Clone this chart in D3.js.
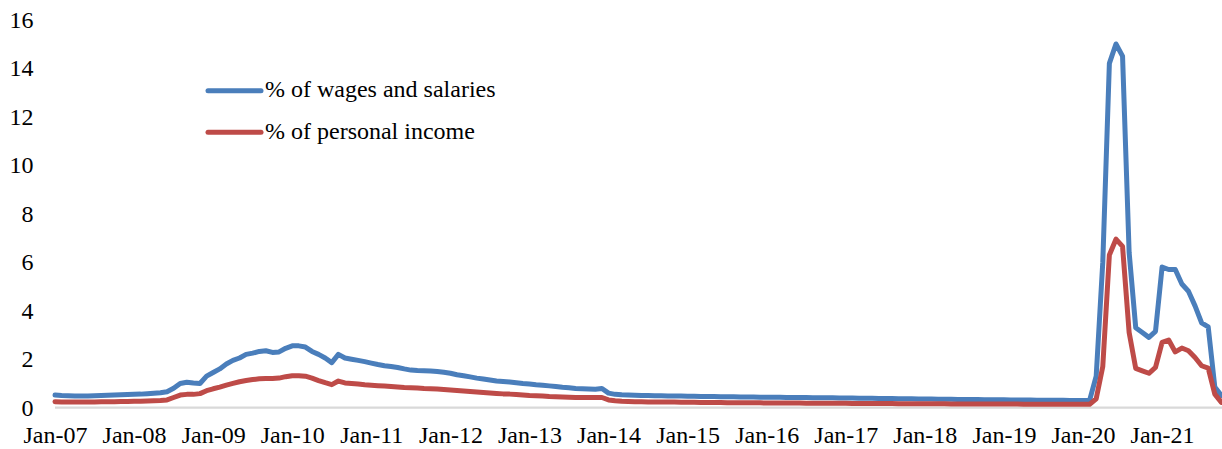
<!DOCTYPE html>
<html>
<head>
<meta charset="utf-8">
<script src="https://cdn.jsdelivr.net/npm/d3@7"></script>
<style>
  html, body { margin: 0; padding: 0; background: #ffffff; }
  svg { display: block; }
</style>
</head>
<body>
<svg id="chart" width="1222" height="449"></svg>
<script>
// ---- Data (monthly, Jan 2007 - Oct 2021) ----
const startYear = 2007, startMonth = 0, monthCount = 178;
const categories = d3.range(monthCount).map(i => {
  const y = startYear + Math.floor((startMonth + i) / 12);
  const m = (startMonth + i) % 12;
  return y + "-" + String(m + 1).padStart(2, "0");
});

const tickCategories = ["2007-01","2008-01","2009-01","2010-01","2011-01","2012-01","2013-01",
  "2014-01","2015-01","2016-01","2017-01","2018-01","2019-01","2020-01","2021-01"];
const tickLabels = ["Jan-07","Jan-08","Jan-09","Jan-10","Jan-11","Jan-12","Jan-13",
  "Jan-14","Jan-15","Jan-16","Jan-17","Jan-18","Jan-19","Jan-20","Jan-21"];
const yTicks = [0, 2, 4, 6, 8, 10, 12, 14, 16];

const seriesNames = ["% of wages and salaries", "% of personal income"];

const wagesShare = [
  // 2007
  0.52, 0.50, 0.49, 0.48, 0.48, 0.48, 0.49, 0.50, 0.51, 0.52, 0.53, 0.54,
  // 2008
  0.55, 0.56, 0.58, 0.60, 0.62, 0.66, 0.80, 1.00, 1.05, 1.02, 1.00, 1.30,
  // 2009
  1.45, 1.60, 1.80, 1.95, 2.05, 2.20, 2.25, 2.32, 2.35, 2.28, 2.30, 2.45,
  // 2010
  2.55, 2.55, 2.50, 2.32, 2.20, 2.05, 1.86, 2.20, 2.05, 2.00, 1.95, 1.90,
  // 2011
  1.84, 1.78, 1.73, 1.70, 1.66, 1.60, 1.55, 1.53, 1.52, 1.51, 1.49, 1.46,
  // 2012
  1.42, 1.36, 1.32, 1.27, 1.22, 1.18, 1.14, 1.10, 1.08, 1.06, 1.03, 1.00,
  // 2013
  0.98, 0.95, 0.93, 0.90, 0.87, 0.84, 0.82, 0.79, 0.78, 0.77, 0.76, 0.79,
  // 2014
  0.60, 0.55, 0.53, 0.52, 0.51, 0.50, 0.50, 0.49, 0.49, 0.48, 0.48, 0.48,
  // 2015
  0.47, 0.47, 0.46, 0.46, 0.46, 0.45, 0.45, 0.45, 0.44, 0.44, 0.44, 0.43,
  // 2016
  0.43, 0.43, 0.43, 0.42, 0.42, 0.42, 0.42, 0.41, 0.41, 0.41, 0.41, 0.40,
  // 2017
  0.40, 0.40, 0.39, 0.39, 0.39, 0.38, 0.38, 0.38, 0.37, 0.37, 0.37, 0.36,
  // 2018
  0.36, 0.36, 0.35, 0.35, 0.35, 0.34, 0.34, 0.34, 0.34, 0.33, 0.33, 0.33,
  // 2019
  0.33, 0.32, 0.32, 0.32, 0.32, 0.31, 0.31, 0.31, 0.31, 0.31, 0.30, 0.30,
  // 2020
  0.30, 0.30, 1.30, 6.00, 14.20, 15.00, 14.50, 6.40, 3.30, 3.10, 2.90, 3.15,
  // 2021
  5.80, 5.70, 5.70, 5.10, 4.80, 4.20, 3.50, 3.33, 0.85, 0.50
];

const incomeShare = [
  // 2007
  0.25, 0.24, 0.24, 0.24, 0.24, 0.24, 0.24, 0.25, 0.25, 0.25, 0.26, 0.26,
  // 2008
  0.27, 0.27, 0.28, 0.29, 0.30, 0.32, 0.42, 0.52, 0.55, 0.55, 0.58, 0.70,
  // 2009
  0.78, 0.85, 0.93, 1.00, 1.07, 1.12, 1.16, 1.19, 1.20, 1.20, 1.22, 1.28,
  // 2010
  1.32, 1.32, 1.30, 1.22, 1.12, 1.03, 0.95, 1.10, 1.02, 1.00, 0.98, 0.95,
  // 2011
  0.93, 0.91, 0.89, 0.87, 0.85, 0.83, 0.82, 0.81, 0.79, 0.78, 0.77, 0.75,
  // 2012
  0.73, 0.71, 0.69, 0.67, 0.65, 0.63, 0.61, 0.59, 0.57, 0.56, 0.54, 0.52,
  // 2013
  0.50, 0.49, 0.48, 0.46, 0.45, 0.44, 0.43, 0.42, 0.42, 0.42, 0.42, 0.42,
  // 2014
  0.32, 0.29, 0.27, 0.26, 0.25, 0.25, 0.24, 0.24, 0.23, 0.23, 0.23, 0.22,
  // 2015
  0.22, 0.22, 0.21, 0.21, 0.21, 0.21, 0.20, 0.20, 0.20, 0.20, 0.20, 0.20,
  // 2016
  0.19, 0.19, 0.19, 0.19, 0.19, 0.19, 0.18, 0.18, 0.18, 0.18, 0.18, 0.18,
  // 2017
  0.18, 0.17, 0.17, 0.17, 0.17, 0.17, 0.17, 0.17, 0.16, 0.16, 0.16, 0.16,
  // 2018
  0.16, 0.16, 0.16, 0.16, 0.15, 0.15, 0.15, 0.15, 0.15, 0.15, 0.15, 0.15,
  // 2019
  0.15, 0.15, 0.15, 0.14, 0.14, 0.14, 0.14, 0.14, 0.14, 0.14, 0.14, 0.14,
  // 2020
  0.14, 0.14, 0.37, 1.70, 6.30, 6.95, 6.65, 3.10, 1.62, 1.52, 1.42, 1.66,
  // 2021
  2.69, 2.79, 2.30, 2.46, 2.35, 2.07, 1.73, 1.63, 0.56, 0.22
];

const colors = ["#4A7EBB", "#BE4B48"];
const fontFamily = '"Liberation Serif", "Times New Roman", Tinos, serif';

// ---- Layout ----
const svg = d3.select("#chart");
const fontSize = 24;

const x = d3.scalePoint().domain(categories).range([55, 1221.4]);
const y = d3.scaleLinear().domain([0, 16]).range([407.7, 19.7]);

// X axis (gray baseline + labels)
const labelOf = new Map(tickCategories.map((c, i) => [c, tickLabels[i]]));
const xAxis = svg.append("g")
  .attr("transform", `translate(0,${y(0)})`)
  .call(d3.axisBottom(x).tickValues(tickCategories).tickSize(0).tickFormat(c => labelOf.get(c)));
xAxis.attr("font-family", null).attr("font-size", null);
xAxis.select(".domain").attr("stroke", "#D9D9D9").attr("stroke-width", 2.2)
  .attr("d", `M${x.range()[0]},0H1222`);
xAxis.selectAll("text")
  .attr("y", 35.3).attr("dy", 0)
  .attr("fill", "#000");

// Y axis (labels only)
const yAxis = svg.append("g")
  .attr("transform", `translate(55,0)`)
  .call(d3.axisLeft(y).tickValues(yTicks).tickSize(0).tickPadding(21.5));
yAxis.attr("font-family", null).attr("font-size", null);
yAxis.select(".domain").remove();
yAxis.selectAll("text").attr("fill", "#000");

// Lines
const line = d3.line()
  .x((d, i) => x(categories[i]))
  .y(d => y(d));

[wagesShare, incomeShare].forEach((vals, k) => {
  svg.append("path")
    .datum(vals)
    .attr("fill", "none")
    .attr("stroke", colors[k])
    .attr("stroke-width", 5)
    .attr("stroke-linejoin", "round")
    .attr("stroke-linecap", "round")
    .attr("d", line);
});

// Legend
const legendRows = [90.7, 132.3];
seriesNames.forEach((name, k) => {
  const g = svg.append("g");
  g.append("line")
    .attr("x1", 208).attr("x2", 261)
    .attr("y1", legendRows[k]).attr("y2", legendRows[k])
    .attr("stroke", colors[k]).attr("stroke-width", 5)
    .attr("stroke-linecap", "round");
  g.append("text")
    .attr("x", 265).attr("y", legendRows[k] + 6.3)
    .attr("fill", "#000")
    .text(name);
});

svg.selectAll("text")
  .style("font-family", fontFamily)
  .style("font-size", fontSize + "px");
</script>
</body>
</html>
